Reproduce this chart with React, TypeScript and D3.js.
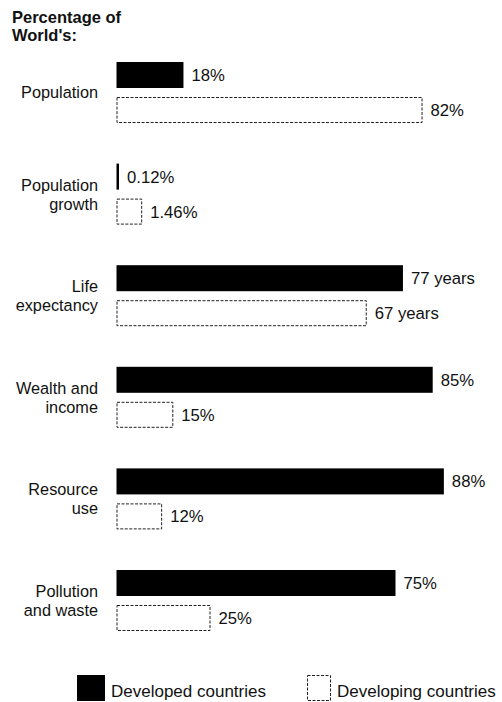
import React from "react";
import * as d3 from "d3";

const titleLines = ["Percentage of", "World's:"];
const categories = [
  ["Population"],
  ["Population", "growth"],
  ["Life", "expectancy"],
  ["Wealth and", "income"],
  ["Resource", "use"],
  ["Pollution", "and waste"],
];
const developed = [18, 0.12, 77, 85, 88, 75];
const developing = [82, 1.46, 67, 15, 12, 25];
const unitSuffix = ["%", "%", " years", "%", "%", "%"];
const scaleMax = [100, 22, 100, 100, 100, 100];
const legendLabels = ["Developed countries", "Developing countries"];

const W = 502;
const H = 702;
const FONT = "'Liberation Sans', Arial, Helvetica, sans-serif";

export default function App() {
  const x0 = 116.5;
  const fullW = 372;
  const y = d3
    .scaleBand<number>()
    .domain(d3.range(categories.length))
    .range([62, 62 + 101.6 * categories.length])
    .paddingInner(0)
    .paddingOuter(0);
  const barH = 26;
  const gap = 9;

  const fmt = (v: number, i: number) => `${v}${unitSuffix[i]}`;

  return (
    <svg
      width={W}
      height={H}
      style={{ position: "absolute", left: 0, top: 0, background: "#fff" }}
      fontFamily={FONT}
    >
      <rect x={0} y={0} width={W} height={H} fill="#fff" />
      {titleLines.map((t, i) => (
        <text key={t} x={12} y={23 + i * 18} fontSize={16.5} fontWeight="bold" fill="#111">
          {t}
        </text>
      ))}
      {categories.map((lines, i) => {
        const T = y(i)!;
        const xs = d3.scaleLinear().domain([0, scaleMax[i]]).range([0, fullW]);
        const w1 = Math.max(2.5, xs(developed[i]));
        const w2 = xs(developing[i]);
        const y2 = T + barH + gap;
        return (
          <g key={i}>
            {lines.length === 1 ? (
              <text x={98} y={T + 36} textAnchor="end" fontSize={16.3} fill="#111">
                {lines[0]}
              </text>
            ) : (
              lines.map((l, j) => (
                <text key={j} x={98} y={T + 27 + j * 19} textAnchor="end" fontSize={16.3} fill="#111">
                  {l}
                </text>
              ))
            )}
            <rect x={x0} y={T} width={w1} height={barH} fill="#000" />
            <text x={x0 + w1 + 8} y={T + barH / 2 + 6} fontSize={16.7} fill="#111">
              {fmt(developed[i], i)}
            </text>
            <rect
              x={x0 + 0.5}
              y={y2 + 0.5}
              width={w2}
              height={barH - 1}
              fill="#fff"
              stroke="#222"
              strokeWidth={1}
              strokeDasharray="3 1.5"
            />
            <text x={x0 + w2 + 9} y={y2 + barH / 2 + 6} fontSize={16.7} fill="#111">
              {fmt(developing[i], i)}
            </text>
          </g>
        );
      })}
      <g>
        <rect x={77} y={675} width={28} height={26} fill="#000" />
        <text x={111} y={697} fontSize={17} fill="#111">
          {legendLabels[0]}
        </text>
        <rect
          x={307.5}
          y={675.5}
          width={23}
          height={25}
          fill="#fff"
          stroke="#222"
          strokeWidth={1}
          strokeDasharray="3 1.5"
        />
        <text x={337} y={697} fontSize={17} fill="#111">
          {legendLabels[1]}
        </text>
      </g>
    </svg>
  );
}
